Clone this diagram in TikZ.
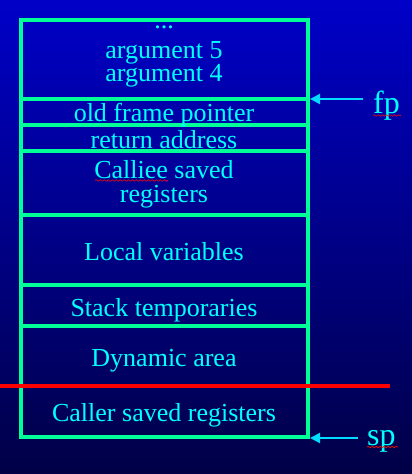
\documentclass[tikz,border=0pt]{standalone}
\usepackage{fontspec}
\setmainfont{Liberation Serif}
\usetikzlibrary{decorations.pathmorphing,arrows.meta}
\definecolor{bgtop}{RGB}{0,0,200}
\definecolor{bgbot}{RGB}{0,0,70}
\definecolor{grn}{RGB}{0,255,150}
\definecolor{cy}{RGB}{0,255,255}
\definecolor{arr}{RGB}{0,220,255}
\definecolor{redline}{RGB}{255,0,0}
\begin{document}
\begin{tikzpicture}[x=1pt,y=-1pt,
  lbl/.style={text=cy,font=\fontsize{26}{28}\selectfont,anchor=base,inner sep=0pt},
  ptr/.style={text=cy,font=\fontsize{32}{34}\selectfont,anchor=base west,inner sep=0pt},
  frame/.style={draw=grn,line width=4pt},
  sep/.style={draw=redline,line width=3.5pt},
  ptrline/.style={draw=arr,line width=2pt,-{Triangle[length=10pt,width=10pt]}},
  squig/.style={draw=red,line width=0.6pt,decorate,decoration={snake,amplitude=0.8pt,segment length=4pt}}]
\shade[top color=bgtop,bottom color=bgbot] (0,0) rectangle (412,474);
\useasboundingbox (0,0) rectangle (412,474);
% frame
\draw[frame] (21,20) rectangle (308,437);
\foreach \y in {99,125,151,215,285,326} \draw[frame] (21,\y) -- (308,\y);
\draw[sep] (0,386) -- (390,386);
% labels
\node[lbl] (dots) at (164,28) {...};
\node[lbl] (arg5) at (164,58) {argument 5};
\node[lbl] (arg4) at (164,81.5) {argument 4};
\node[lbl] (ofp) at (164,121) {old frame pointer};
\node[lbl] (ret) at (164,148) {return address};
\node[lbl] (cal1) at (164,178) {Calliee saved};
\node[lbl] (cal2) at (164,202) {registers};
\node[lbl] (loc) at (164,260) {Local variables};
\node[lbl] (stk) at (164,316) {Stack temporaries};
\node[lbl] (dyn) at (164,366) {Dynamic area};
\node[lbl] (clr) at (164,421) {Caller saved registers};
% pointers
\node[ptr] (fp) at (373,113) {fp};
\node[ptr] (sp) at (367,445) {sp};
\coordinate (fpt) at (310,99);
\coordinate (spt) at (310,438);
\draw[ptrline] (fp.west |- fpt) ++(-10,0) -- (fpt);
\draw[ptrline] (sp.west |- spt) ++(-9,0) -- (spt);
% spell-check squiggles
\draw[squig] (373,115.5) -- (401,115.5);
\draw[squig] (367,447) -- (398,447);
\draw[squig] (95,180.5) -- (168,180.5);
\end{tikzpicture}
\end{document}
